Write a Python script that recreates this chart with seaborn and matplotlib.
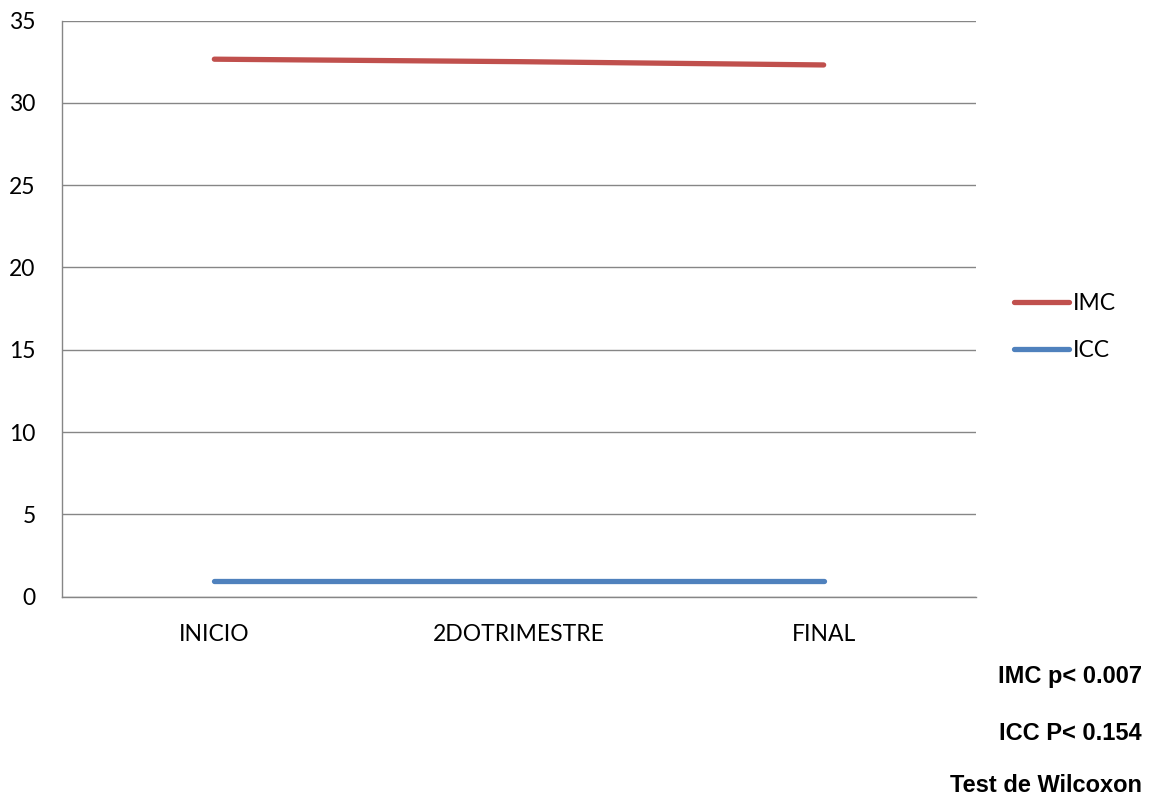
import matplotlib
matplotlib.use("Agg")
import matplotlib.pyplot as plt
import seaborn as sns
import pandas as pd
from matplotlib.lines import Line2D

periodos = ["INICIO", "2DOTRIMESTRE", "FINAL"]
imc = [32.65, 32.5, 32.3]
icc = [0.93, 0.93, 0.93]
series = ["IMC", "ICC"]
colores = ["#C0504D", "#4F81BD"]
notas = ["IMC p< 0.007", "ICC P< 0.154", "Test de Wilcoxon"]

df = pd.DataFrame({
    "periodo": periodos * 2,
    "valor": imc + icc,
    "serie": [series[0]] * 3 + [series[1]] * 3,
})

sns.set_theme(style="white")
plt.rcParams["font.family"] = ["Lato", "DejaVu Sans"]
plt.rcParams["text.color"] = "black"

fig = plt.figure(figsize=(11.53, 8.08), dpi=100)
ax = fig.add_axes([62 / 1153, 1 - 596.7 / 808, (976 - 62) / 1153, (596.7 - 20.5) / 808])

sns.lineplot(data=df, x="periodo", y="valor", hue="serie", palette=colores,
             linewidth=3.8, ax=ax, legend=False, sort=False,
             solid_capstyle="round")

grid_c = "#868686"
ax.set_xlim(-0.5, 2.5)
ax.set_ylim(0, 35)
ax.set_yticks(range(0, 36, 5))
ax.yaxis.grid(True, color=grid_c, linewidth=1.0)
ax.set_axisbelow(True)
ax.set_xticks(range(3))
ax.set_xticklabels(periodos)
ax.set_xticks([-0.5, 0.5, 1.5, 2.5], minor=True)
ax.tick_params(axis="x", which="major", length=0, pad=20, labelsize=16.5, colors="black")
ax.tick_params(axis="x", which="minor", length=5, width=1, color=grid_c, direction="out")
ax.tick_params(axis="y", length=6, width=1, color=grid_c, direction="out", labelsize=16.5, pad=13)
ax.tick_params(axis="y", labelcolor="black")
ax.set_xlabel("")
ax.set_ylabel("")
for s in ["top", "right"]:
    ax.spines[s].set_visible(False)
for s in ["left", "bottom"]:
    ax.spines[s].set_color(grid_c)
    ax.spines[s].set_linewidth(1.0)

# legend to the right of the plot area
handles = [Line2D([0], [0], color=c, linewidth=3.8, solid_capstyle="round") for c in colores]
fig.legend(handles, series, loc="center left", bbox_to_anchor=(1014 / 1153, 1 - 327 / 808),
           frameon=False, prop={"size": 16.5}, handlelength=2.4, handletextpad=0.15,
           labelspacing=1.15, borderaxespad=0, borderpad=0, labelcolor="black")

# statistical notes at the bottom right
for y, t in zip([677, 733, 785], notas):
    fig.text(1142 / 1153, 1 - y / 808, t, ha="right", va="center", color="black",
             fontsize=17, fontweight="bold", family=["Liberation Sans", "DejaVu Sans"])

fig.savefig("out.png", dpi=100)
